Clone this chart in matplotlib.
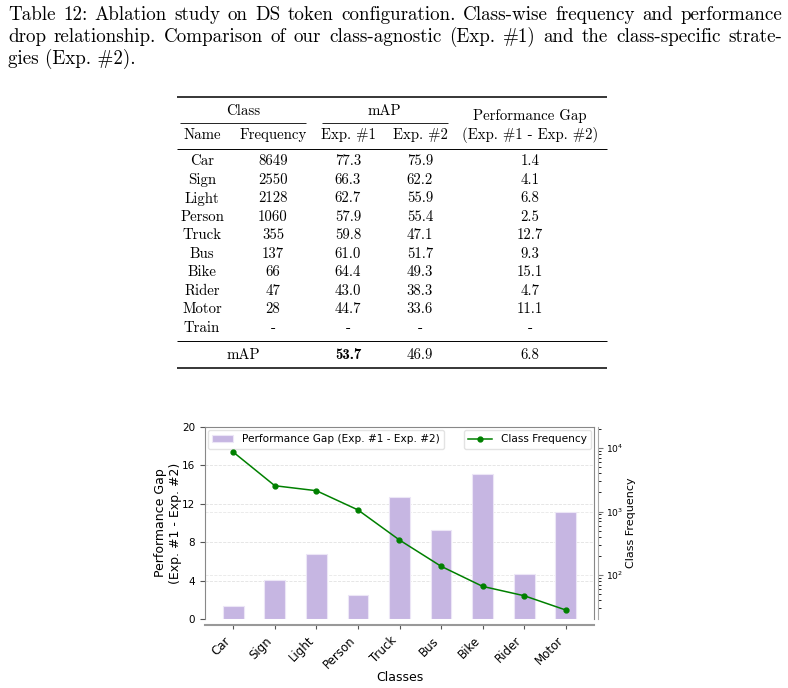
import matplotlib
matplotlib.use("Agg")
import matplotlib.pyplot as plt
import numpy as np

# data
classes = ["Car", "Sign", "Light", "Person", "Truck", "Bus", "Bike", "Rider", "Motor"]
freq = [8649, 2550, 2128, 1060, 355, 137, 66, 47, 28]
exp1 = [77.3, 66.3, 62.7, 57.9, 59.8, 61.0, 64.4, 43.0, 44.7]
exp2 = [75.9, 62.2, 55.9, 55.4, 47.1, 51.7, 49.3, 38.3, 33.6]
gap = [1.4, 4.1, 6.8, 2.5, 12.7, 9.3, 15.1, 4.7, 11.1]
extra_class = "Train"
mean_row = ["mAP", "53.7", "46.9", "6.8"]

caption = ["Table 12: Ablation study on DS token configuration. Class-wise frequency and performance",
           "drop relationship. Comparison of our class-agnostic (Exp. #1) and the class-specific strate-",
           "gies (Exp. #2)."]

plt.rcParams["axes.unicode_minus"] = False
serif = ["cmr10", "DejaVu Serif"]
bold = ["cmb10", "DejaVu Serif"]

fig = plt.figure(figsize=(7.88, 6.88), dpi=100)
page = fig.add_axes([0, 0, 1, 1])
page.set_xlim(0, 788)
page.set_ylim(688, 0)
page.axis("off")
r = fig.canvas.get_renderer()

# caption: size so the first line fits the text width, then justify
probe = page.text(0, 0, caption[0], fontsize=10, family=serif)
cap_size = 10 * 774 / probe.get_window_extent(r).width * 0.985
probe.remove()
baselines = [20, 42, 64]
for i, line in enumerate(caption):
    y = baselines[i]
    if i < 2:
        words = line.split(" ")
        ts = [page.text(0, y, w, fontsize=cap_size, family=serif, va="baseline") for w in words]
        ws = [t.get_window_extent(r).width for t in ts]
        g = (782 - 8 - sum(ws)) / (len(words) - 1)
        x = 8
        for t, w in zip(ts, ws):
            t.set_x(x)
            x += w + g
    else:
        page.text(8, y, line, fontsize=cap_size, family=serif, va="baseline")

# table
ts = 10.7
colx = [202, 273, 348, 420, 530]
page.hlines(96.5, 177, 607, color="black", lw=1.1)
page.text(243, 111, "Class", fontsize=ts, family=serif, ha="center", va="center")
page.text(384, 111, "mAP", fontsize=ts, family=serif, ha="center", va="center")
page.text(530, 116, "Performance Gap", fontsize=ts, family=serif, ha="center", va="center")
page.hlines(123, 180, 306, color="black", lw=0.6)
page.hlines(123, 322, 448, color="black", lw=0.6)
hdr = ["Name", "Frequency", "Exp. #1", "Exp. #2", "(Exp. #1 - Exp. #2)"]
for x, h in zip(colx, hdr):
    page.text(x, 135, h, fontsize=ts, family=serif, ha="center", va="center")
page.hlines(149.3, 177, 607, color="black", lw=0.7)
row_y = 161.5
for i in range(len(classes)):
    vals = [classes[i], str(freq[i]), f"{exp1[i]:.1f}", f"{exp2[i]:.1f}", f"{gap[i]:.1f}"]
    for x, v in zip(colx, vals):
        page.text(x, row_y, v, fontsize=ts, family=serif, ha="center", va="center")
    row_y += 18.5
for j, x in enumerate(colx):
    page.text(x, row_y, extra_class if j == 0 else "-", fontsize=ts, family=serif, ha="center", va="center")
page.hlines(340.7, 177, 607, color="black", lw=0.7)
page.text(243, 355, mean_row[0], fontsize=ts, family=serif, ha="center", va="center")
page.text(348, 355, mean_row[1], fontsize=ts, family=bold, ha="center", va="center")
page.text(420, 355, mean_row[2], fontsize=ts, family=serif, ha="center", va="center")
page.text(530, 355, mean_row[3], fontsize=ts, family=serif, ha="center", va="center")
page.hlines(367.5, 177, 607, color="black", lw=1.1)

# chart
ax = fig.add_axes([205 / 788, 69 / 688, 389 / 788, 192 / 688])
ax2 = ax.twinx()
x = np.arange(len(classes))
ax.bar(x, gap, width=0.5, color="#c6b6e2", edgecolor="#ece6f6", lw=0.8,
       label="Performance Gap (Exp. #1 - Exp. #2)", zorder=2)
ax.set_ylim(0, 20)
ax.set_yticks([0, 4, 8, 12, 16, 20])
ax.set_xlim(-0.68, 8.68)
ax.set_xticks(x)
ax.set_xticklabels(classes)
ax.tick_params(axis="x", labelsize=8.5, colors="#555555", labelcolor="black", length=3,
               labelrotation=45)
ax.tick_params(axis="y", labelsize=7.5, colors="#555555", labelcolor="black", length=3.5)
ax.grid(axis="y", color="#e2e2e2", lw=0.6, ls="--", zorder=0)
ax.set_ylabel("Performance Gap\n(Exp. #1 - Exp. #2)", fontsize=9, labelpad=0)
ax.set_xlabel("Classes", fontsize=9, labelpad=0)
for s in ["left", "right", "top", "bottom"]:
    ax.spines[s].set_color("#888888")
ax.spines["bottom"].set_position(("outward", 4.5))
ax.spines["bottom"].set_linewidth(1.5)
ax.spines["bottom"].set_color("#999999")

ax2.plot(x, freq, color="green", marker="o", ms=3.5, lw=1.1, label="Class Frequency")
ax2.set_yscale("log")
ax2.set_ylim(20.2, 21500)
ax2.tick_params(axis="y", labelsize=6.6, colors="#777777", labelcolor="black", pad=2)
ax2.set_ylabel("Class Frequency", fontsize=8, labelpad=2)
for s in ["left", "right", "top", "bottom"]:
    ax2.spines[s].set_visible(False)
ax2.spines["right"].set_visible(True)
ax2.spines["right"].set_color("#aaaaaa")
ax2.spines["right"].set_position(("outward", 3))
# log grid drawn behind the bars
ax.hlines([100, 1000], 0, 1, transform=ax2.get_yaxis_transform(), color="#e8e8e8",
          lw=0.6, ls="--", zorder=0)

ax.legend(loc="upper left", fontsize=7.6, frameon=True, edgecolor="#dddddd", fancybox=True,
          borderaxespad=0.3, handlelength=2.0)
ax2.legend(loc="upper right", fontsize=7.6, frameon=True, edgecolor="#dddddd", fancybox=True,
           borderaxespad=0.3, handlelength=2.3)

fig.canvas.draw()
for lab in ax.get_xticklabels():
    lab.set_rotation(45)
    lab.set_ha("right")

fig.savefig("out.png", dpi=100)
